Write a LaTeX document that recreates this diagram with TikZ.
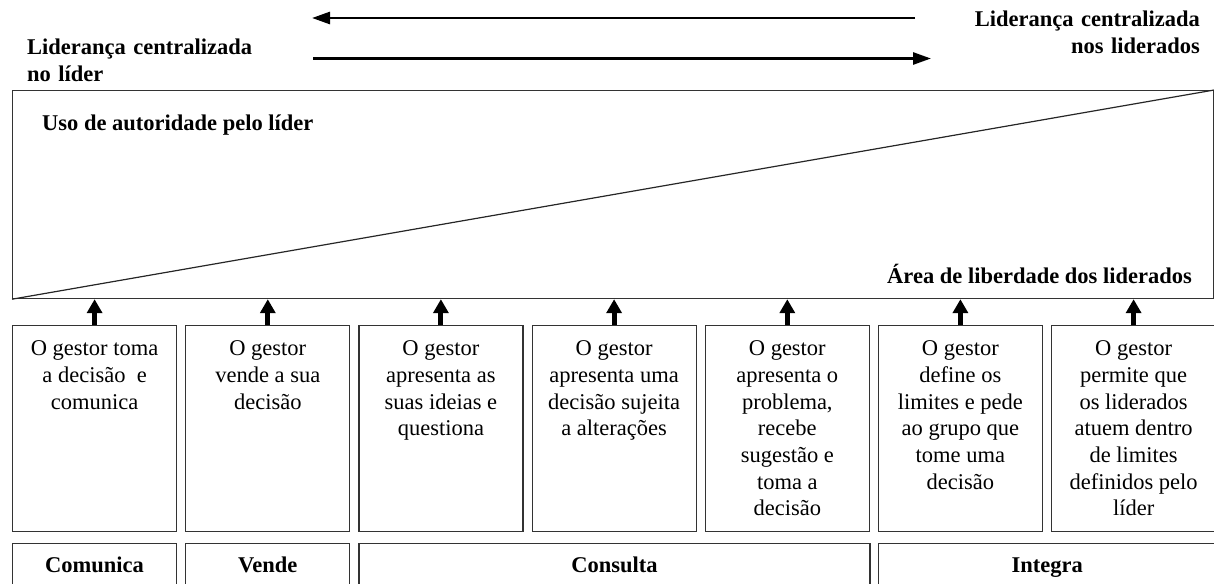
\documentclass[tikz,border=0pt]{standalone}
\usepackage{fontspec}
\setmainfont{Liberation Serif}
\usetikzlibrary{arrows.meta}
\newcommand\gbox[1]{\parbox[c][206pt][t]{164pt}{\centering\rule{0pt}{30pt}#1}}
\newcommand\gcat[1]{\parbox[c][60pt][t]{\linewidth}{\centering\rule{0pt}{29pt}\bfseries #1}}
\begin{document}
\begin{tikzpicture}[x=1pt,y=-1pt,
  every node/.style={font=\fontsize{22.5}{26.7}\selectfont},
  frame/.style={draw=black!80, line width=1.2pt, inner sep=0pt, anchor=north west},
  stepbox/.style={frame},
  catbox/.style={frame},
  bigarrow/.style={line width=2.7pt, -{Triangle[width=12pt,length=18pt]}},
  uparrow/.style={line width=5pt, -{Triangle[width=15pt,length=14pt]}},
  lbl/.style={inner sep=0pt, font=\fontsize{22.5}{26.7}\selectfont\bfseries}
]
\useasboundingbox (0,0) rectangle (1214,583);
\clip (0,0) rectangle (1214,583);

% top arrows
\coordinate (a1s) at (915,18);
\coordinate (a1e) at (312,18);
\coordinate (a2s) at (313,58.5);
\coordinate (a2e) at (931,58.5);
\draw[bigarrow] (a1s) -- (a1e);
\draw[bigarrow] (a2s) -- (a2e);

\node[lbl, text width=260pt, align=left, anchor=base west] (tl) at (27,55)
  {Liderança centralizada\\no líder};
\node[lbl, text width=300pt, align=right, anchor=base east] (tr) at (1200,27)
  {Liderança centralizada\\nos liderados};

% main rectangle
\node[frame, minimum width=1201pt, minimum height=208pt] (main) at (12,90) {};
\draw[black!85, line width=1.2pt] (main.south west) -- (main.north east);
\node[lbl, anchor=base west] (uso) at (42,131) {Uso de autoridade pelo líder};
\node[lbl, anchor=base east] (area) at (1192,283) {Área de liberdade dos liderados};

% step boxes
\node[stepbox] (b1) at (12,325) {\gbox{O gestor toma\\a decisão\ \ e\\comunica}};
\node[stepbox] (b2) at (185.2,325) {\gbox{O gestor\\vende a sua\\decisão}};
\node[stepbox] (b3) at (358.3,325) {\gbox{O gestor\\apresenta as\\suas ideias e\\questiona}};
\node[stepbox] (b4) at (531.5,325) {\gbox{O gestor\\apresenta uma\\decisão sujeita\\a alterações}};
\node[stepbox] (b5) at (704.7,325) {\gbox{O gestor\\apresenta o\\problema,\\recebe\\sugestão e\\toma a\\decisão}};
\node[stepbox] (b6) at (877.8,325) {\gbox{O gestor\\define os\\limites e pede\\ao grupo que\\tome uma\\decisão}};
\node[stepbox] (b7) at (1051,325) {\gbox{O gestor\\permite que\\os liderados\\atuem dentro\\de limites\\definidos pelo\\líder}};

\foreach \b in {b1,b2,b3,b4,b5,b6,b7}
  \draw[uparrow] (\b.north) -- (\b.north |- main.south);

% category boxes
\node[catbox] (c1) at (12,543) {\parbox{164pt}{\gcat{Comunica}}};
\node[catbox] (c2) at (185.2,543) {\parbox{164pt}{\gcat{Vende}}};
\node[catbox] (c3) at (358.3,543) {\parbox{511pt}{\gcat{Consulta}}};
\node[catbox] (c4) at (877.8,543) {\parbox{337.5pt}{\gcat{Integra}}};
\end{tikzpicture}
\end{document}
